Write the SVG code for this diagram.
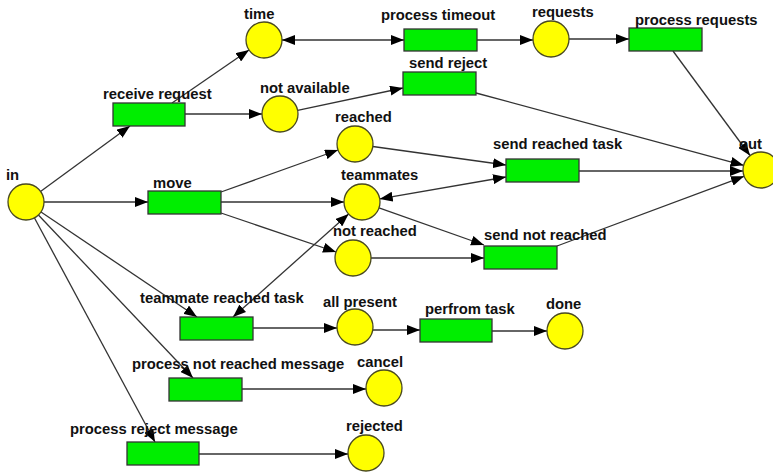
<svg xmlns="http://www.w3.org/2000/svg" width="773" height="475" viewBox="0 0 773 475">
<style>
.place{fill:#ffff00;stroke:#4a4a20;stroke-width:1.3}
.trans{fill:#00ee00;stroke:#333;stroke-width:1.3}
.lbl{font-family:"Liberation Sans",Arial,sans-serif;font-weight:bold;font-size:14.8px;fill:#111}
.arc{stroke:#333;stroke-width:1.3;fill:none;marker-end:url(#ah)}
.bi{marker-start:url(#ah)}
</style>
<defs>
<marker id="ah" markerUnits="userSpaceOnUse" markerWidth="14" markerHeight="10" refX="13" refY="5" orient="auto-start-reverse">
<path d="M0,0 L13,5 L0,10 z" fill="#000"/>
</marker>
</defs>
<rect width="773" height="475" fill="#fff"/>
<g id="connectors">
<path class="arc" d="M40.5,191.4 L130,126"/>
<path class="arc" d="M172,103 L249,50"/>
<path class="arc" d="M185,114 L262,114"/>
<path class="arc bi" d="M282,40 L404,40"/>
<path class="arc" d="M477,40 L533,40"/>
<path class="arc" d="M569,39 L629,39"/>
<path class="arc" d="M673,51 L750,155.5"/>
<path class="arc" d="M297.6,110.3 L403,88"/>
<path class="arc" d="M476,93 L743.6,165.3"/>
<path class="arc" d="M44,202 L148,202"/>
<path class="arc" d="M221,192 L338,150"/>
<path class="arc" d="M221,202 L344,202"/>
<path class="arc" d="M221,213 L336,252"/>
<path class="arc" d="M372.8,146.5 L506,165"/>
<path class="arc bi" d="M379.7,198.9 L506,177"/>
<path class="arc" d="M379,207.8 L484,245"/>
<path class="arc" d="M371,258 L484,258"/>
<path class="arc" d="M579,171 L743,171"/>
<path class="arc" d="M557,246 L744,176.3"/>
<path class="arc bi" d="M233,317 L348.6,214"/>
<path class="arc" d="M41,212 L197,317"/>
<path class="arc" d="M38.4,215 L193,378"/>
<path class="arc" d="M34.5,218 L155,442"/>
<path class="arc" d="M253,328 L337,328"/>
<path class="arc" d="M373,330 L420,330"/>
<path class="arc" d="M492,331 L547,331"/>
<path class="arc" d="M242,389 L366,389"/>
<path class="arc" d="M199,454 L348,454"/>
</g>
<g id="p-in"><circle class="place" cx="26" cy="202" r="18"/><text class="lbl" x="6" y="180">in</text></g>
<g id="p-time"><circle class="place" cx="264" cy="40" r="18"/><text class="lbl" x="244" y="19">time</text></g>
<g id="p-notavailable"><circle class="place" cx="280" cy="114" r="18"/><text class="lbl" x="260" y="93">not available</text></g>
<g id="p-reached"><circle class="place" cx="355" cy="144" r="18"/><text class="lbl" x="335" y="122">reached</text></g>
<g id="p-teammates"><circle class="place" cx="362" cy="202" r="18"/><text class="lbl" x="341" y="180">teammates</text></g>
<g id="p-notreached"><circle class="place" cx="353" cy="258" r="18"/><text class="lbl" x="333" y="236">not reached</text></g>
<g id="p-requests"><circle class="place" cx="551" cy="39" r="18"/><text class="lbl" x="532" y="17">requests</text></g>
<g id="p-out"><circle class="place" cx="761" cy="170" r="18"/><text class="lbl" x="739" y="149">out</text></g>
<g id="p-allpresent"><circle class="place" cx="355" cy="327" r="18"/><text class="lbl" x="323" y="307">all present</text></g>
<g id="p-done"><circle class="place" cx="565" cy="331" r="18"/><text class="lbl" x="546" y="309">done</text></g>
<g id="p-cancel"><circle class="place" cx="384" cy="388" r="18"/><text class="lbl" x="357" y="367">cancel</text></g>
<g id="p-rejected"><circle class="place" cx="366" cy="453" r="18"/><text class="lbl" x="346" y="431">rejected</text></g>
<g id="t-receiverequest"><rect class="trans" x="113" y="103" width="72" height="23"/><text class="lbl" x="103" y="99">receive request</text></g>
<g id="t-processtimeout"><rect class="trans" x="404" y="29" width="73" height="22"/><text class="lbl" x="381" y="20">process timeout</text></g>
<g id="t-sendreject"><rect class="trans" x="403" y="72" width="73" height="23"/><text class="lbl" x="409" y="68">send reject</text></g>
<g id="t-processrequests"><rect class="trans" x="629" y="28" width="73" height="23"/><text class="lbl" x="635" y="25">process requests</text></g>
<g id="t-move"><rect class="trans" x="148" y="191" width="73" height="23"/><text class="lbl" x="153" y="188">move</text></g>
<g id="t-sendreachedtask"><rect class="trans" x="506" y="159" width="73" height="23"/><text class="lbl" x="493" y="149">send reached task</text></g>
<g id="t-sendnotreached"><rect class="trans" x="484" y="246" width="73" height="23"/><text class="lbl" x="484" y="240">send not reached</text></g>
<g id="t-teammatereachedtask"><rect class="trans" x="180" y="317" width="73" height="23"/><text class="lbl" x="140" y="303">teammate reached task</text></g>
<g id="t-processnotreachedmessage"><rect class="trans" x="169" y="378" width="73" height="23"/><text class="lbl" x="132" y="369">process not reached message</text></g>
<g id="t-processrejectmessage"><rect class="trans" x="127" y="442" width="72" height="23"/><text class="lbl" x="70" y="434">process reject message</text></g>
<g id="t-perfromtask"><rect class="trans" x="420" y="319" width="72" height="23"/><text class="lbl" x="425" y="314">perfrom task</text></g>
</svg>
